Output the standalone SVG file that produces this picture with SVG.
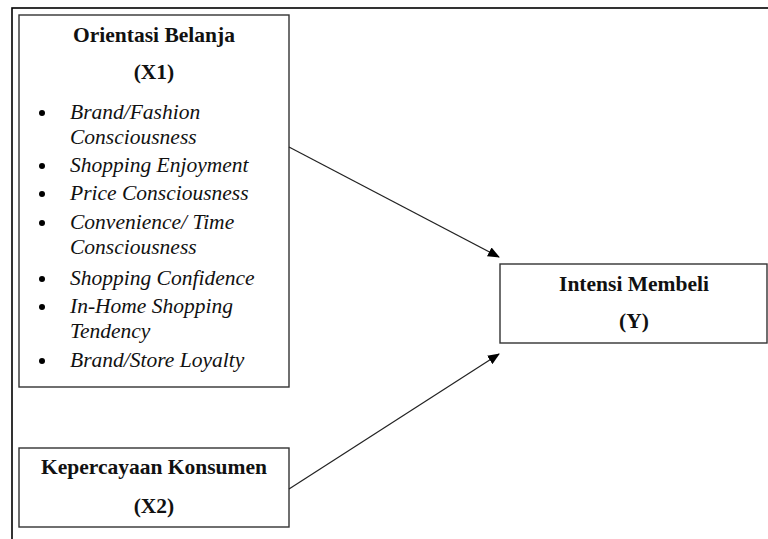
<svg xmlns="http://www.w3.org/2000/svg" width="768" height="539" viewBox="0 0 768 539">
<style>
.frame{fill:none;stroke:#000;stroke-width:1.6}
.box{fill:#fff;stroke:#333;stroke-width:1.4}
.t{font-family:"Liberation Serif","Times New Roman",serif;font-size:21.5px;fill:#111}
.b{font-weight:bold;text-anchor:middle}
.i{font-style:italic}
.conn{stroke:#222;stroke-width:1.2;fill:none;marker-end:url(#arr)}
</style>
<defs>
<marker id="arr" markerWidth="12" markerHeight="10" refX="11" refY="5" orient="auto" markerUnits="userSpaceOnUse">
<path d="M0,0 L12,5 L0,10 Z" fill="#000"/>
</marker>
</defs>
<rect class="frame" x="12" y="8" width="770" height="545"/>
<g id="x1">
<rect class="box" x="19" y="15" width="270" height="372"/>
<text class="t b" x="154" y="42">Orientasi Belanja</text>
<text class="t b" x="154" y="79">(X1)</text>
<g fill="#000">
<circle cx="42" cy="113" r="3"/>
<circle cx="42" cy="166" r="3"/>
<circle cx="42" cy="194" r="3"/>
<circle cx="42" cy="223" r="3"/>
<circle cx="42" cy="279" r="3"/>
<circle cx="42" cy="307" r="3"/>
<circle cx="42" cy="361" r="3"/>
</g>
<text class="t i" x="70" y="119">Brand/Fashion</text>
<text class="t i" x="70" y="144">Consciousness</text>
<text class="t i" x="70" y="172">Shopping Enjoyment</text>
<text class="t i" x="70" y="200">Price Consciousness</text>
<text class="t i" x="70" y="229">Convenience/ Time</text>
<text class="t i" x="70" y="254">Consciousness</text>
<text class="t i" x="70" y="285">Shopping Confidence</text>
<text class="t i" x="70" y="313">In-Home Shopping</text>
<text class="t i" x="70" y="338">Tendency</text>
<text class="t i" x="70" y="367">Brand/Store Loyalty</text>
</g>
<g id="x2">
<rect class="box" x="19" y="448" width="270" height="79"/>
<text class="t b" x="154" y="474">Kepercayaan Konsumen</text>
<text class="t b" x="154" y="513">(X2)</text>
</g>
<g id="y">
<rect class="box" x="500" y="264" width="267" height="79"/>
<text class="t b" x="634" y="291">Intensi Membeli</text>
<text class="t b" x="634" y="328">(Y)</text>
</g>
<g id="connectors">
<line class="conn" x1="289" y1="147" x2="499" y2="257"/>
<line class="conn" x1="289" y1="489" x2="499" y2="354"/>
</g>
</svg>
